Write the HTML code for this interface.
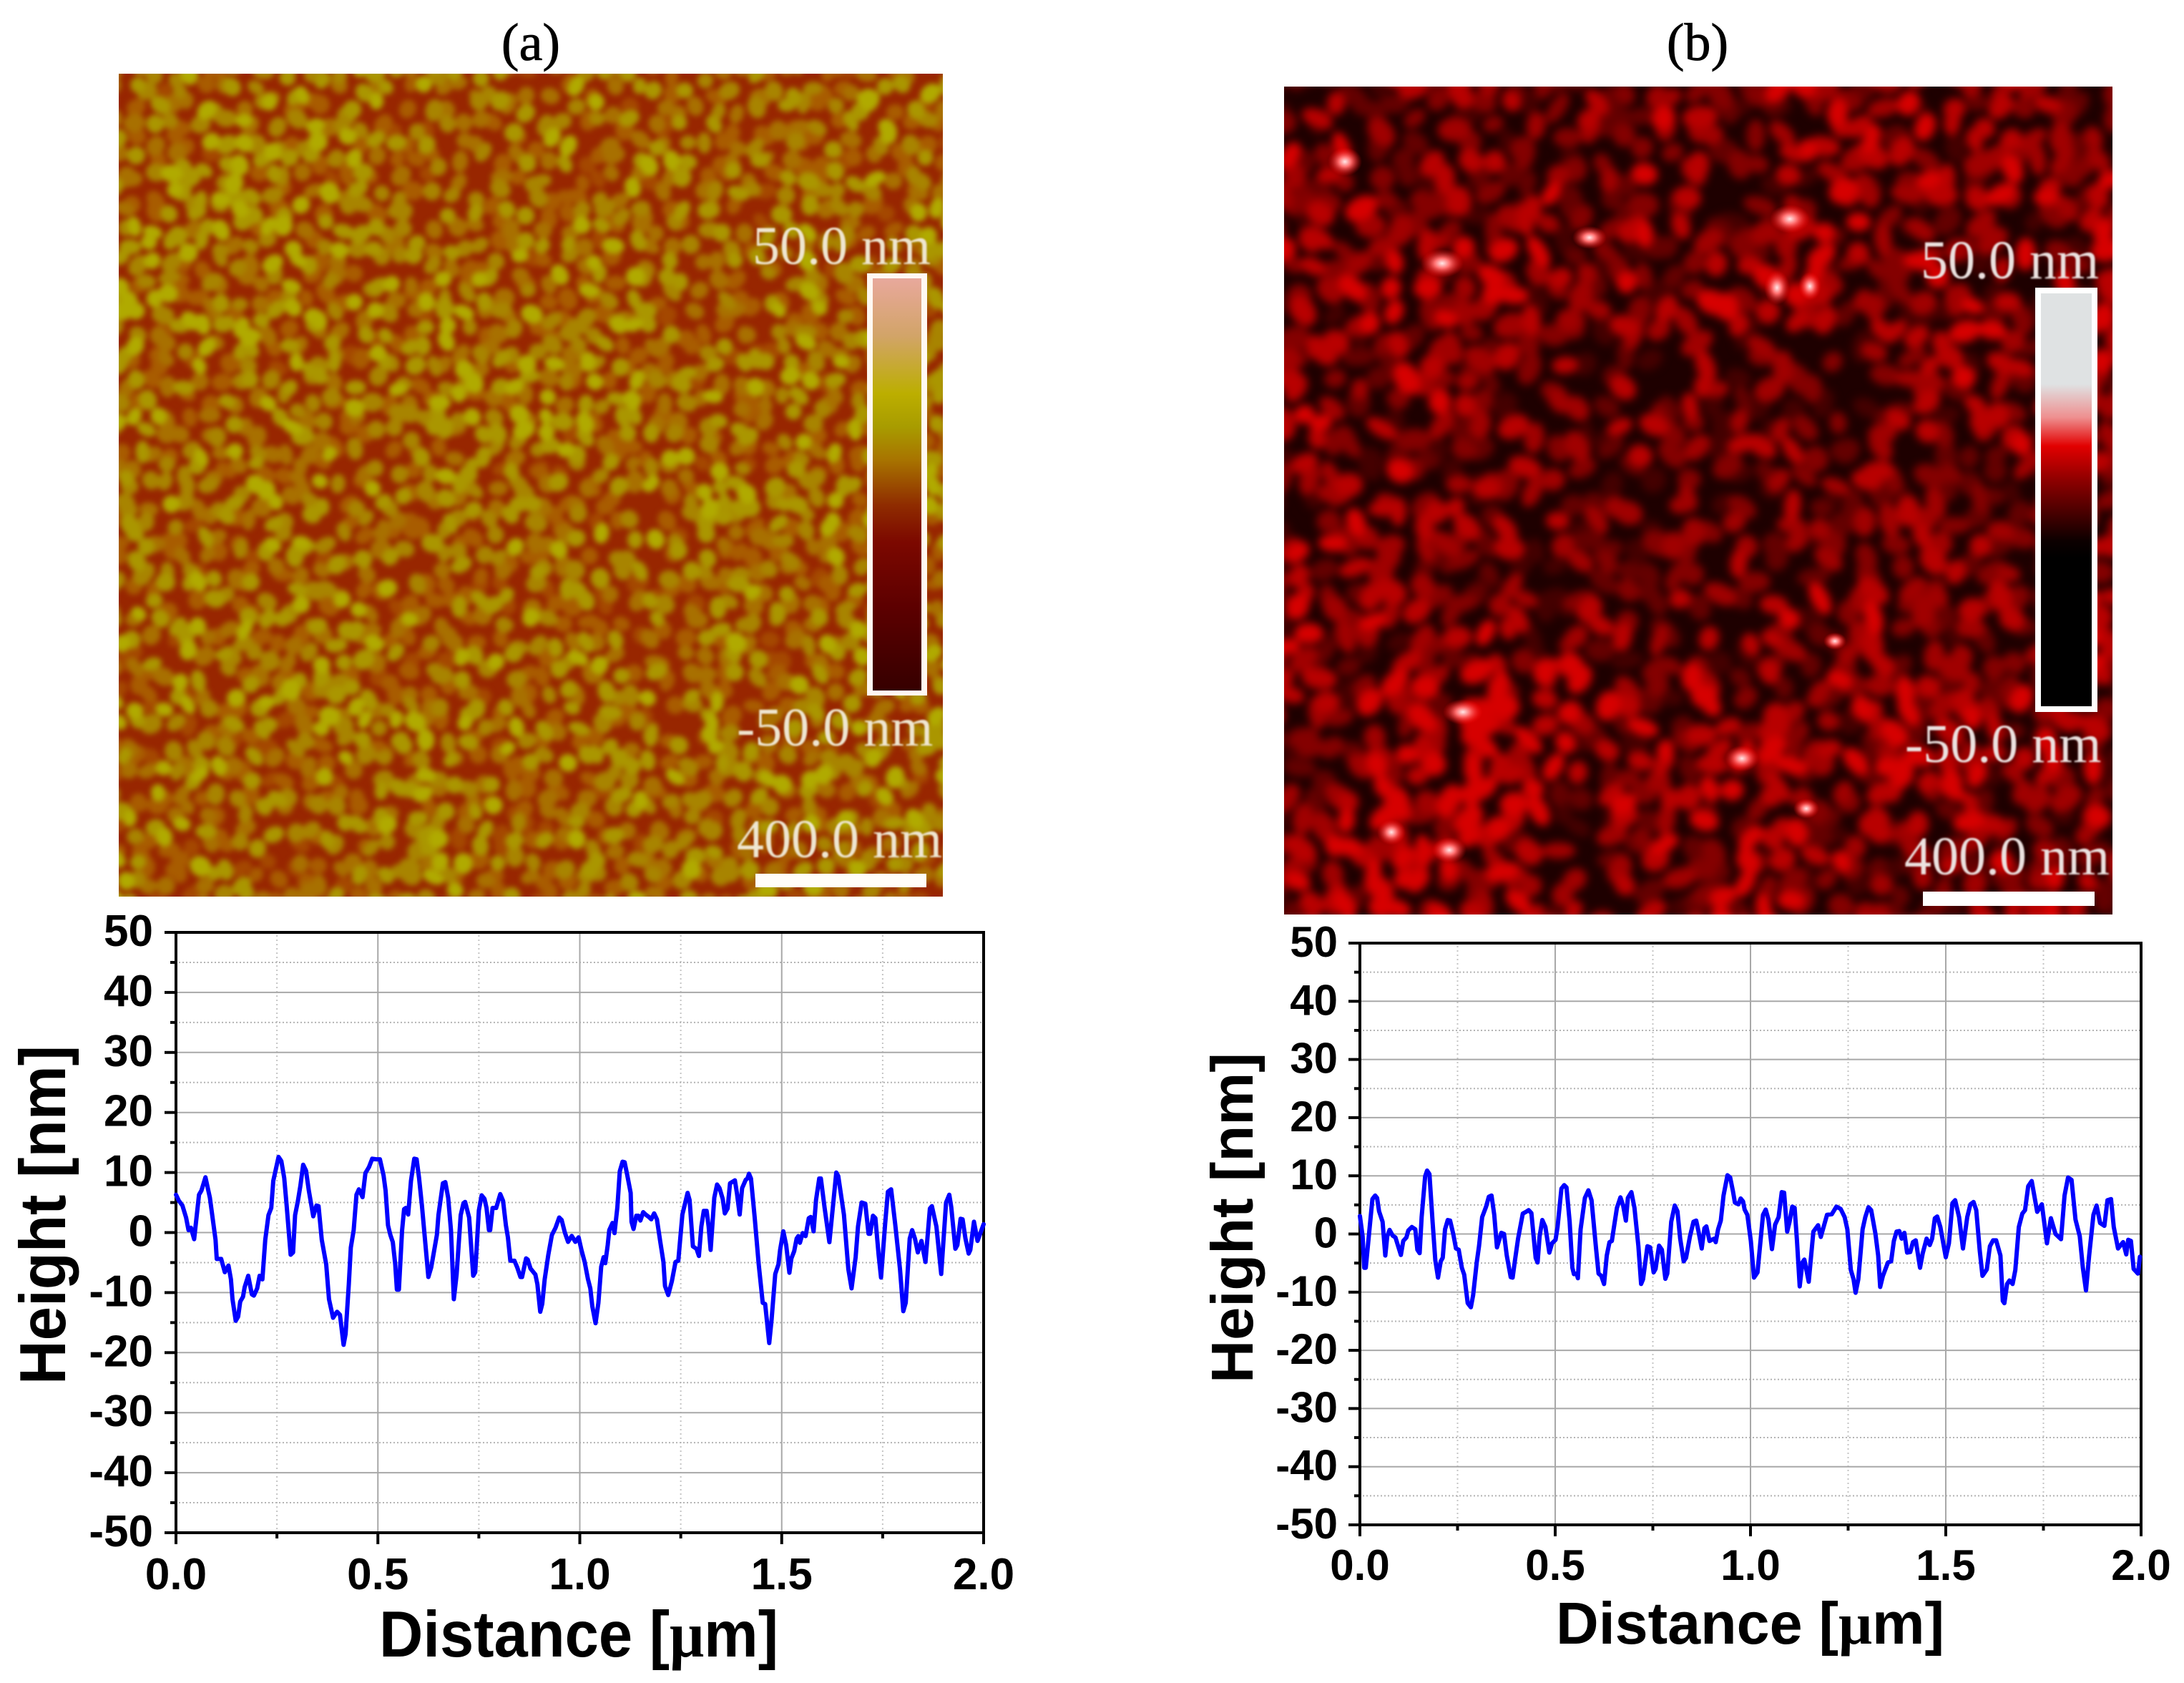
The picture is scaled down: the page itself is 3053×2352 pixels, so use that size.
<!DOCTYPE html>
<html>
<head>
<meta charset="utf-8">
<title>AFM images and height profiles</title>
<style>
html,body{margin:0;padding:0;background:#fff;}
svg{display:block;}
.afm-label{font-family:"Liberation Serif",serif;font-size:76px;filter:blur(1px);}
.panel-title{font-family:"Liberation Serif",serif;font-size:74px;fill:#000;stroke:#000;stroke-width:0.8px;text-anchor:middle;}
.tick{font-family:"Liberation Sans",sans-serif;font-weight:bold;fill:#000;}
.axis-title{font-family:"Liberation Sans",sans-serif;font-weight:bold;fill:#000;}
.mu{font-family:"Liberation Serif",serif;font-weight:bold;}
</style>
</head>
<body>
<svg id="figure" xmlns="http://www.w3.org/2000/svg" width="3053" height="2352" viewBox="0 0 3053 2352">
<defs>
<filter id="grain-blur-a" filterUnits="userSpaceOnUse" x="150" y="90" width="1190" height="1180" color-interpolation-filters="sRGB"><feGaussianBlur stdDeviation="4"/></filter>
<filter id="grain-blur-b" filterUnits="userSpaceOnUse" x="1780" y="105" width="1190" height="1190" color-interpolation-filters="sRGB"><feGaussianBlur stdDeviation="6"/></filter>
<clipPath id="clip-a"><rect x="166" y="103" width="1152" height="1150"/></clipPath>
<clipPath id="clip-b"><rect x="1795" y="121" width="1158" height="1157"/></clipPath>
<linearGradient id="cbar-a" x1="0" y1="0" x2="0" y2="1">
<stop offset="0" stop-color="#e8a89c"/><stop offset="0.14" stop-color="#d2a468"/><stop offset="0.28" stop-color="#bcae00"/><stop offset="0.36" stop-color="#a89c00"/><stop offset="0.44" stop-color="#a87400"/><stop offset="0.55" stop-color="#8f2c00"/><stop offset="0.64" stop-color="#7c0800"/><stop offset="0.8" stop-color="#5c0000"/><stop offset="1" stop-color="#360000"/>
</linearGradient>
<linearGradient id="cbar-b" x1="0" y1="0" x2="0" y2="1">
<stop offset="0" stop-color="#dfe2e3"/><stop offset="0.22" stop-color="#dfe2e3"/><stop offset="0.3" stop-color="#ee9090"/><stop offset="0.37" stop-color="#e20000"/><stop offset="0.45" stop-color="#900000"/><stop offset="0.6" stop-color="#0c0000"/><stop offset="0.64" stop-color="#000"/><stop offset="1" stop-color="#000"/>
</linearGradient>
<radialGradient id="spot"><stop offset="0" stop-color="#ffe8e8"/><stop offset="0.35" stop-color="#ff7070"/><stop offset="1" stop-color="#ff0000" stop-opacity="0"/></radialGradient>
</defs>

<rect width="3053" height="2352" fill="#fff"/>
<text class="panel-title" x="742" y="84">(a)</text>
<text class="panel-title" x="2373" y="84">(b)</text>

<g>
<g clip-path="url(#clip-a)">
<rect x="166" y="103" width="1152" height="1150" fill="#982600"/>
<g id="grains-a" filter="url(#grain-blur-a)"></g>
</g>
<rect x="1212" y="382" width="84" height="590" fill="#fff8f2"/>
<rect x="1220" y="389" width="68" height="576" fill="url(#cbar-a)"/>
<text class="afm-label" fill="#efe6d0" x="1052" y="369">50.0 nm</text>
<text class="afm-label" fill="#efe6d0" x="1030" y="1042">-50.0 nm</text>
<text class="afm-label" fill="#efe6d0" x="1030" y="1198">400.0 nm</text>
<rect x="1056" y="1221" width="239" height="19" fill="#fffdf8"/>
</g>

<g>
<g clip-path="url(#clip-b)">
<rect x="1795" y="121" width="1158" height="1157" fill="#1e0000"/>
<g id="grains-b" filter="url(#grain-blur-b)"></g>
<g fill="url(#spot)">
<ellipse cx="2502" cy="306" rx="28" ry="20"/><ellipse cx="2016" cy="368" rx="30" ry="20"/>
<ellipse cx="2222" cy="332" rx="24" ry="16"/><ellipse cx="2484" cy="402" rx="18" ry="24"/>
<ellipse cx="2026" cy="1188" rx="24" ry="18"/><ellipse cx="1945" cy="1163" rx="20" ry="18"/>
<ellipse cx="2045" cy="995" rx="28" ry="18"/><ellipse cx="1880" cy="226" rx="24" ry="20"/>
<ellipse cx="2565" cy="896" rx="16" ry="12"/><ellipse cx="2525" cy="1130" rx="18" ry="14"/>
<ellipse cx="2435" cy="1060" rx="24" ry="18"/><ellipse cx="2530" cy="400" rx="16" ry="20"/>
</g>
</g>
<rect x="2845" y="402" width="87" height="593" fill="#fff"/>
<rect x="2853" y="410" width="71" height="577" fill="url(#cbar-b)"/>
<text class="afm-label" fill="#ece2e0" x="2685" y="389">50.0 nm</text>
<text class="afm-label" fill="#ece2e0" x="2663" y="1065">-50.0 nm</text>
<text class="afm-label" fill="#ece2e0" x="2662" y="1222">400.0 nm</text>
<rect x="2688" y="1246" width="240" height="20" fill="#fff"/>
</g>

<g id="chart-a"></g>
<g id="chart-b"></g>
</svg>

<script>
const xTickValues = [0, 0.5, 1, 1.5, 2];
const xTickLabels = ["0.0", "0.5", "1.0", "1.5", "2.0"];
const xMinorValues = [0.25, 0.75, 1.25, 1.75];
const yTickValues = [50, 40, 30, 20, 10, 0, -10, -20, -30, -40, -50];
const yTickLabels = ["50", "40", "30", "20", "10", "0", "-10", "-20", "-30", "-40", "-50"];
const yMinorValues = [45, 35, 25, 15, 5, -5, -15, -25, -35, -45];

const distanceA = [0,.007,.016,.025,.031,.037,.045,.057,.063,.073,.084,.098,.101,.112,.121,.130,.136,.140,.148,.154,.159,.166,.170,.179,.188,.193,.201,.207,.214,.221,.229,.236,.241,.254,.261,.268,.274,.284,.290,.295,.302,.308,.315,.322,.329,.340,.348,.353,.361,.372,.379,.389,.399,.406,.415,.420,.428,.433,.440,.447,.453,.462,.469,.478,.486,.496,.505,.514,.519,.525,.531,.537,.543,.547,.552,.560,.565,.569,.575,.582,.590,.596,.602,.609,.625,.632,.646,.650,.655,.661,.667,.674,.681,.688,.695,.705,.712,.716,.726,.736,.741,.750,.757,.764,.769,.775,.778,.784,.793,.803,.810,.817,.822,.828,.838,.845,.853,.857,.867,.871,.878,.890,.895,.902,.907,.913,.922,.931,.940,.949,.955,.963,.971,.980,.989,.997,1.004,1.012,1.020,1.026,1.031,1.039,1.046,1.053,1.059,1.063,1.069,1.073,1.081,1.086,1.093,1.099,1.106,1.111,1.118,1.126,1.128,1.133,1.140,1.145,1.150,1.157,1.163,1.171,1.177,1.184,1.191,1.199,1.207,1.211,1.219,1.228,1.237,1.244,1.254,1.267,1.272,1.280,1.289,1.295,1.301,1.307,1.314,1.319,1.324,1.333,1.340,1.346,1.354,1.359,1.366,1.372,1.384,1.389,1.396,1.402,1.411,1.415,1.419,1.424,1.433,1.443,1.453,1.459,1.463,1.469,1.475,1.484,1.492,1.496,1.504,1.511,1.519,1.524,1.531,1.537,1.541,1.545,1.552,1.559,1.567,1.572,1.579,1.585,1.593,1.597,1.606,1.618,1.626,1.635,1.640,1.654,1.665,1.673,1.683,1.689,1.698,1.707,1.715,1.719,1.726,1.732,1.740,1.746,1.756,1.763,1.771,1.781,1.793,1.801,1.807,1.817,1.823,1.830,1.837,1.846,1.856,1.867,1.872,1.883,1.895,1.907,1.915,1.920,1.930,1.935,1.943,1.948,1.955,1.963,1.967,1.976,1.985,2.0];
const heightA = [6.3,5.3,4.5,2.5,.4,.8,-1.1,6.3,7,9.2,5.8,-1.2,-4.4,-4.4,-6.6,-5.5,-7.8,-11.1,-14.7,-14,-11.5,-10.7,-9.1,-7.2,-10.3,-10.5,-9.3,-7.2,-7.8,-1.2,2.9,4.1,8.6,12.6,11.9,9.1,4.5,-3.7,-3.3,2.9,5.3,7.8,11.3,10.3,7,2.7,4.5,4.4,-1.2,-5.3,-11.1,-14.2,-13.2,-13.7,-18.7,-16.9,-8.6,-2.5,.4,6.3,7.2,5.9,9.9,10.9,12.3,12.2,12.2,9.5,7,1.2,-.4,-1.6,-5.3,-9.5,-9.5,.4,3.9,4.1,3,8.6,12.3,12.2,9.1,4.5,-7.4,-5.8,-.4,2.9,5.3,8.2,8.4,5.8,.4,-11.1,-7,2.9,4.9,5.1,2.5,-7.2,-6.6,3.7,6.2,5.6,4.1,.4,.4,4.1,4.1,6.4,5.3,1.2,-.8,-4.7,-4.7,-5.8,-7.4,-7.4,-4.3,-4.5,-6,-7,-8.6,-13.2,-11.9,-7.8,-3.7,-.4,.8,2.5,2.1,0,-1.55,-.56,-1.55,-.8,-2.9,-4.9,-7.7,-9.3,-12.3,-15.1,-11.7,-5.7,-4.1,-5.1,-2.1,.4,1.6,-.1,4.2,10.2,11.8,11.7,9.4,6.6,1.8,.6,2.8,2.8,2,3.4,3,2.6,2.2,3.2,2.2,-1.4,-4.9,-8.9,-10.4,-8.1,-4.9,-4.7,3,6.6,5.4,-2.3,-2.7,-3.9,1,3.6,3.6,1,-2.9,5.8,8,7.4,5.6,3.2,4,8.2,8.7,6.6,3,7.4,8.8,9,9.8,9,2.6,-5.3,-11.7,-11.9,-14.5,-18.4,-14.5,-6.9,-5.3,-2.9,.2,-2.1,-6.7,-4.3,-3.1,-1,-.6,-1.7,-.1,-.6,2.4,2.6,.2,5.4,9,9,4.2,-1.6,3.8,10,9.4,3,-6.1,-9.3,-4.1,1,5,4.8,-.2,-.2,2.8,2.4,-3.7,-7.5,1.4,6.8,7.2,1.4,-6.1,-13.1,-11.7,-1,.4,-1,-3.3,-1.4,-4.9,4,4.4,1,-6.9,5,6.3,4.2,-2.7,-2.1,2.3,2.2,-1,-3.5,-2.9,1.8,-1.4,1.4];

const distanceB = [0,.007,.011,.015,.025,.032,.039,.044,.049,.058,.065,.070,.076,.084,.091,.098,.105,.111,.119,.124,.133,.142,.147,.153,.158,.167,.172,.178,.186,.193,.200,.207,.212,.218,.225,.231,.239,.246,.253,.261,.267,.276,.284,.290,.299,.305,.313,.323,.330,.337,.344,.351,.362,.369,.376,.386,.391,.397,.405,.417,.425,.432,.439,.450,.455,.460,.467,.475,.485,.492,.501,.506,.516,.523,.529,.537,.544,.548,.555,.558,.565,.576,.585,.593,.604,.611,.618,.625,.632,.639,.645,.650,.658,.667,.674,.681,.686,.695,.703,.713,.720,.725,.736,.743,.752,.757,.766,.773,.782,.787,.797,.806,.813,.820,.829,.835,.845,.854,.861,.867,.875,.882,.887,.895,.907,.911,.917,.924,.931,.941,.948,.955,.960,.969,.975,.981,.985,.992,1.001,1.009,1.018,1.032,1.039,1.046,1.055,1.063,1.072,1.080,1.086,1.094,1.100,1.107,1.113,1.119,1.126,1.133,1.138,1.149,1.161,1.173,1.180,1.196,1.208,1.220,1.231,1.241,1.248,1.257,1.264,1.269,1.276,1.287,1.294,1.302,1.309,1.320,1.327,1.332,1.339,1.352,1.360,1.367,1.374,1.381,1.387,1.394,1.401,1.409,1.416,1.423,1.434,1.441,1.451,1.459,1.465,1.472,1.478,1.486,1.500,1.508,1.517,1.524,1.534,1.544,1.555,1.563,1.571,1.578,1.587,1.594,1.605,1.613,1.621,1.629,1.640,1.646,1.650,1.657,1.663,1.671,1.678,1.687,1.696,1.703,1.711,1.720,1.734,1.746,1.759,1.769,1.781,1.795,1.804,1.813,1.822,1.832,1.843,1.851,1.859,1.867,1.878,1.886,1.895,1.906,1.914,1.923,1.930,1.941,1.954,1.962,1.967,1.974,1.981,1.992,1.997];
const heightB = [3.1,-.4,-5.8,-5.8,1.2,6,6.6,6.2,3.9,2.1,-3.7,-.4,.7,-.3,-.6,-2.1,-3.6,-1.2,-.6,.6,1.2,.8,-2.7,-3.3,2.9,9.9,10.9,10.3,2.1,-4.5,-7.5,-4.7,-4.1,.8,2.4,2.3,0,-2.5,-2.7,-5.8,-7,-11.9,-12.6,-10.5,-4.9,-2.1,2.9,4.7,6.4,6.6,3.3,-2.3,.2,0,-3.7,-7.4,-7.5,-4.5,-.8,3.5,3.8,4.1,3.6,-4.1,-4.9,-.4,2.4,1.2,-3.2,-1.6,-1,1.2,7.8,8.4,8,2.1,-5.8,-6.9,-6.8,-7.6,.8,6.2,7.5,5.8,-2.1,-6.8,-7.2,-8.6,-3.7,-1.4,-1.2,1,4.5,6.3,4.9,2.3,6.2,7.2,4.5,-2.1,-8.6,-7.8,-2.1,-2.3,-6.6,-6,-2,-2.7,-7.7,-6.8,2.1,4.9,3.9,-.8,-4.7,-4.1,-.4,2.1,2.3,.4,-2.5,1,1.3,-1.2,-.8,-1.4,.8,2.3,6.6,10.1,9.7,7.4,5.4,5.1,6.1,5.6,4.2,3.3,-1.2,-7.5,-6.6,3.3,4.2,2.5,-2.6,1.6,2.9,7.2,7.1,.4,2.1,4.7,4.5,-1.2,-9,-4.9,-4.4,-8.2,.4,1.5,-.5,3.3,3.4,4.7,4.3,2.9,.8,-6.2,-7.8,-10.1,-7.8,.8,2.9,4.6,4.1,0,-3.7,-9.1,-7.2,-4.9,-4.7,-1.2,.4,.5,-.8,.2,-3.2,-3.1,-1.4,-1.1,-5.8,-3.3,-.8,-1.9,-.8,2.7,3,1.2,-4,-1.6,5.3,5.8,2.9,-2.5,2.9,5.1,5.5,4.1,-2.9,-7.2,-6.1,-2.1,-1.1,-1.1,-3.7,-11.5,-11.9,-8.6,-8,-8.6,-6.2,1.2,3.5,4.1,8.2,9.1,3.8,5.1,-1.6,2.7,0,-.9,6.6,9.7,9.3,2.5,-.4,-5.8,-9.7,-3.7,3.3,4.9,1.9,1.4,5.8,6,1.2,-2.5,-1.4,-3.5,-1,-1.2,-6,-6.8,-3.9];

const SVG_NS = "http://www.w3.org/2000/svg";

/* Decorative microscope-image grain texture (a photograph substitute, not chart data). */
function grainTexture(rootId, opts) {
  let state = opts.seed;
  function next() {
    state = (state + 0x6D2B79F5) | 0;
    let t = Math.imul(state ^ (state >>> 15), 1 | state);
    t = (t + Math.imul(t ^ (t >>> 7), 61 | t)) ^ t;
    return ((t ^ (t >>> 14)) >>> 0) / 4294967296;
  }
  const paths = opts.colors.map(function () { return []; });
  for (let gy = opts.y - opts.pitch; gy < opts.y + opts.h + opts.pitch; gy += opts.pitch) {
    for (let gx = opts.x - opts.pitch; gx < opts.x + opts.w + opts.pitch; gx += opts.pitch) {
      const cx = gx + (next() - 0.5) * opts.jitter;
      const cy = gy + (next() - 0.5) * opts.jitter;
      const rx = opts.rxMin + next() * (opts.rxMax - opts.rxMin);
      const ry = opts.ryMin + next() * (opts.ryMax - opts.ryMin);
      const angle = next() * Math.PI;
      let level = 0.5 + (next() - 0.5) * opts.spread;
      opts.patches.forEach(function (p) {
        const dx = cx - p[0], dy = cy - p[1];
        level += p[3] * Math.exp(-(dx * dx + dy * dy) / (2 * p[2] * p[2]));
      });
      if (level < opts.skipBelow) continue;
      const idx = Math.max(0, Math.min(opts.colors.length - 1, Math.floor(level * opts.colors.length)));
      const ex = rx * Math.cos(angle), ey = rx * Math.sin(angle), deg = (angle * 180 / Math.PI).toFixed(0);
      paths[idx].push("M" + (cx - ex).toFixed(1) + " " + (cy - ey).toFixed(1) +
        "a" + rx.toFixed(1) + " " + ry.toFixed(1) + " " + deg + " 1 0 " + (2 * ex).toFixed(1) + " " + (2 * ey).toFixed(1) +
        "a" + rx.toFixed(1) + " " + ry.toFixed(1) + " " + deg + " 1 0 " + (-2 * ex).toFixed(1) + " " + (-2 * ey).toFixed(1) + "z");
    }
  }
  const root = document.getElementById(rootId);
  opts.colors.forEach(function (color, i) {
    const p = document.createElementNS(SVG_NS, "path");
    
    
    p.setAttribute("d", paths[i].join(""));
    p.setAttribute("fill", color);
    root.appendChild(p);
  });
}

grainTexture("grains-a", {
  seed: 1234, x: 166, y: 103, w: 1152, h: 1150, pitch: 24, jitter: 22,
  rxMin: 11, rxMax: 16, ryMin: 9, ryMax: 13, spread: 0.85, skipBelow: 0.12,
  colors: ["#a44800", "#a85c00", "#a87000", "#a88400", "#aa9600", "#b0aa00"],
  patches: [[640,230,70,-.22],[1045,140,60,-.22],[410,1170,70,-.22],[1000,400,60,-.18],[640,790,70,-.12],[880,820,70,-.14],
            [730,500,80,.16],[520,1080,90,.16],[1020,780,70,.16],[360,340,90,.12]]
});

grainTexture("grains-b", {
  seed: 98765, x: 1795, y: 121, w: 1158, h: 1157, pitch: 32, jitter: 30,
  rxMin: 15, rxMax: 25, ryMin: 11, ryMax: 17, spread: 0.9, skipBelow: 0.08,
  colors: ["#440000", "#640000", "#840000", "#a00000", "#b80000", "#d60000"],
  patches: [[1840,1050,50,-.38],[2420,300,60,-.3],[2560,530,80,-.28],[2640,700,70,-.18],[2250,620,140,-.2],[2350,850,120,-.2],
            [1810,420,40,-.25],[2050,135,150,-.2],[2200,1255,90,-.2],
            [2040,1060,110,.25],[1960,1190,110,.25],[2030,370,100,.2],[2480,340,70,.28],[2410,1060,100,.2],[2700,1020,60,.15],[1910,230,60,.15],[2240,340,60,.15]]
});

function makeAxis(domainMin, domainMax, pixelMin, pixelMax) {
  return function (value) {
    return pixelMin + (value - domainMin) / (domainMax - domainMin) * (pixelMax - pixelMin);
  };
}

function setAttrs(el, attrs) {
  for (const key in attrs) el.setAttribute(key, attrs[key]);
}

function drawChart(root, cfg, distances, heights) {
  const xAxis = makeAxis(0, 2, cfg.left, cfg.right);
  const yAxis = makeAxis(-50, 50, cfg.bottom, cfg.top);

  xMinorValues.forEach(function (v) {
    const g = document.createElementNS(SVG_NS, "line");
    
    
    setAttrs(g, {x1: xAxis(v), x2: xAxis(v), y1: cfg.top + 4, y2: cfg.bottom, stroke: "#c4c4c4", "stroke-width": 2, "stroke-dasharray": "2 4"});
    root.appendChild(g);
    const t = document.createElementNS(SVG_NS, "line");
    
    
    setAttrs(t, {x1: xAxis(v), x2: xAxis(v), y1: cfg.bottom, y2: cfg.bottom + 8, stroke: "#000", "stroke-width": 4});
    root.appendChild(t);
  });

  yMinorValues.forEach(function (v) {
    const g = document.createElementNS(SVG_NS, "line");
    
    
    setAttrs(g, {x1: cfg.left + 4, x2: cfg.right, y1: yAxis(v), y2: yAxis(v), stroke: "#b4b4b4", "stroke-width": 2, "stroke-dasharray": "2 3"});
    root.appendChild(g);
    const t = document.createElementNS(SVG_NS, "line");
    
    
    setAttrs(t, {x1: cfg.left - 8, x2: cfg.left, y1: yAxis(v), y2: yAxis(v), stroke: "#000", "stroke-width": 4});
    root.appendChild(t);
  });

  xTickValues.forEach(function (v, i) {
    if (v !== xTickValues[0] && v !== xTickValues[xTickValues.length - 1]) {
      const g = document.createElementNS(SVG_NS, "line");
      
      
      setAttrs(g, {x1: xAxis(v), x2: xAxis(v), y1: cfg.top, y2: cfg.bottom, stroke: "#a8a8a8", "stroke-width": 2});
      root.appendChild(g);
    }
    const t = document.createElementNS(SVG_NS, "line");
    
    
    setAttrs(t, {x1: xAxis(v), x2: xAxis(v), y1: cfg.bottom, y2: cfg.bottom + 16, stroke: "#000", "stroke-width": 4});
    root.appendChild(t);
    const label = document.createElementNS(SVG_NS, "text");
    
    
    setAttrs(label, {class: "tick", x: xAxis(v), y: cfg.xLabelY, "text-anchor": "middle", "font-size": cfg.tickSize});
    label.textContent = xTickLabels[i];
    root.appendChild(label);
  });

  yTickValues.forEach(function (v, i) {
    if (v !== yTickValues[0] && v !== yTickValues[yTickValues.length - 1]) {
      const g = document.createElementNS(SVG_NS, "line");
      
      
      setAttrs(g, {x1: cfg.left, x2: cfg.right, y1: yAxis(v), y2: yAxis(v), stroke: "#a8a8a8", "stroke-width": 2});
      root.appendChild(g);
    }
    const t = document.createElementNS(SVG_NS, "line");
    
    
    setAttrs(t, {x1: cfg.left - 16, x2: cfg.left, y1: yAxis(v), y2: yAxis(v), stroke: "#000", "stroke-width": 4});
    root.appendChild(t);
    const label = document.createElementNS(SVG_NS, "text");
    
    
    setAttrs(label, {class: "tick", x: cfg.yLabelX, y: yAxis(v) + cfg.yLabelDy, "text-anchor": "end", "font-size": cfg.tickSize});
    label.textContent = yTickLabels[i];
    root.appendChild(label);
  });

  const frame = document.createElementNS(SVG_NS, "rect");
  
  
  setAttrs(frame, {x: cfg.left, y: cfg.top, width: cfg.right - cfg.left, height: cfg.bottom - cfg.top, fill: "none", stroke: "#000", "stroke-width": 4});
  root.appendChild(frame);

  const line = document.createElementNS(SVG_NS, "polyline");
  
  
  const points = distances.map(function (d, i) {
    return xAxis(d).toFixed(1) + "," + yAxis(heights[i]).toFixed(1);
  }).join(" ");
  setAttrs(line, {points: points, fill: "none", stroke: "#0000ff", "stroke-width": 6, "stroke-linejoin": "round", "stroke-linecap": "round"});
  root.appendChild(line);

  const xTitle = document.createElementNS(SVG_NS, "text");
  
  
  setAttrs(xTitle, {class: "axis-title", x: cfg.xTitleX, y: cfg.xTitleY, "font-size": cfg.titleSize, textLength: cfg.xTitleLength, lengthAdjust: "spacingAndGlyphs"});
  xTitle.appendChild(document.createTextNode("Distance ["));
  const mu = document.createElementNS(SVG_NS, "tspan");
  
  
  mu.setAttribute("class", "mu");
  mu.textContent = "\u03bc";
  xTitle.appendChild(mu);
  xTitle.appendChild(document.createTextNode("m]"));
  root.appendChild(xTitle);

  const yTitle = document.createElementNS(SVG_NS, "text");
  
  
  setAttrs(yTitle, {class: "axis-title", transform: "translate(" + cfg.yTitleX + "," + cfg.yTitleY + ") rotate(-90)", "font-size": cfg.titleSize, textLength: cfg.yTitleLength, lengthAdjust: "spacingAndGlyphs"});
  yTitle.textContent = "Height [nm]";
  root.appendChild(yTitle);
}

drawChart(document.getElementById("chart-a"), {
  left: 246, right: 1375, top: 1303, bottom: 2142,
  tickSize: 62, xLabelY: 2221, yLabelX: 214, yLabelDy: 19,
  titleSize: 91, xTitleX: 530, xTitleY: 2315, xTitleLength: 558,
  yTitleX: 91, yTitleY: 1935, yTitleLength: 474
}, distanceA, heightA);

drawChart(document.getElementById("chart-b"), {
  left: 1901, right: 2993, top: 1318, bottom: 2131,
  tickSize: 60, xLabelY: 2208, yLabelX: 1870, yLabelDy: 19,
  titleSize: 83, xTitleX: 2175, xTitleY: 2297, xTitleLength: 543,
  yTitleX: 1751, yTitleY: 1933, yTitleLength: 462
}, distanceB, heightB);
</script>
</body>
</html>
